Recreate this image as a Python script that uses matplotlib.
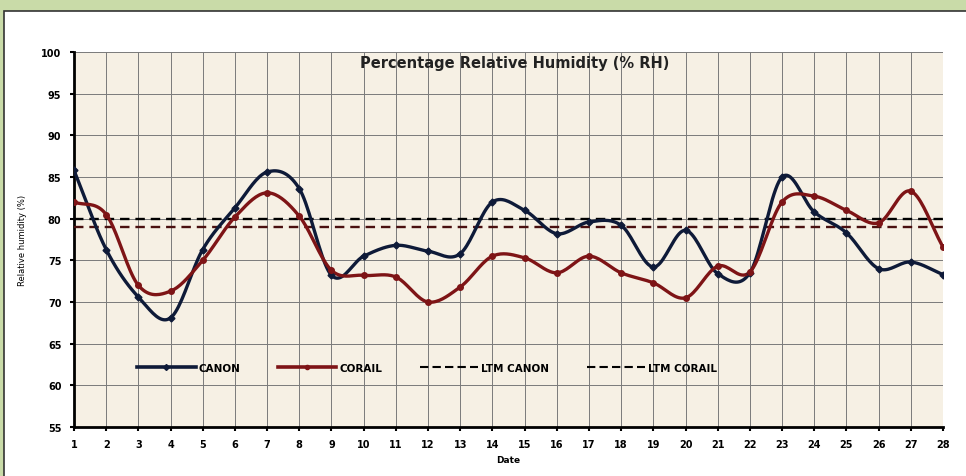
import numpy as np
import matplotlib
matplotlib.use("Agg")
import matplotlib.pyplot as plt
from matplotlib.patches import Rectangle

# data
dates = list(range(1, 29))
canon = [85.8, 76.3, 70.6, 68.1, 76.3, 81.3, 85.6, 83.6, 73.2, 75.5,
         76.8, 76.1, 75.8, 82.0, 81.0, 78.2, 79.6, 79.2, 74.2, 78.6,
         73.4, 73.5, 85.0, 80.8, 78.3, 74.0, 74.8, 73.3]
corail = [82.0, 80.5, 72.0, 71.3, 75.0, 80.2, 83.1, 80.3, 73.8, 73.2,
          73.0, 70.0, 71.8, 75.5, 75.3, 73.5, 75.5, 73.5, 72.3, 70.5,
          74.3, 73.6, 82.0, 82.7, 81.0, 79.5, 83.3, 76.6]
ltm_canon = 80
ltm_corail = 79


# smoothed line like excel (catmull-rom)
def smooth(x, y, n=20):
    x = np.asarray(x, float)
    y = np.asarray(y, float)
    px = np.concatenate([[2 * x[0] - x[1]], x, [2 * x[-1] - x[-2]]])
    py = np.concatenate([[2 * y[0] - y[1]], y, [2 * y[-1] - y[-2]]])
    xs, ys = [], []
    t = np.linspace(0, 1, n, endpoint=False)
    for i in range(1, len(px) - 2):
        for arr, out in ((px, xs), (py, ys)):
            p0, p1, p2, p3 = arr[i - 1], arr[i], arr[i + 1], arr[i + 2]
            out.extend(0.5 * (2 * p1 + (-p0 + p2) * t
                              + (2 * p0 - 5 * p1 + 4 * p2 - p3) * t ** 2
                              + (-p0 + 3 * p1 - 3 * p2 + p3) * t ** 3))
    xs.append(x[-1])
    ys.append(y[-1])
    return np.array(xs), np.array(ys)


navy = '#0e1a38'
red = '#7e1416'

fig = plt.figure(figsize=(9.66, 4.77), dpi=100)
fig.patch.set_facecolor('#c9dba8')
# white panel with border
fig.patches.append(Rectangle((4 / 966, -0.01), 1, 1.01 - 12 / 477, transform=fig.transFigure,
                             facecolor='white', edgecolor='#333333', linewidth=1.2, zorder=-10))

ax = fig.add_axes([74 / 966, 1 - 428 / 477, (943 - 74) / 966, (428 - 53) / 477])
ax.set_facecolor('#f6f0e4')
ax.set_xlim(1, 28)
ax.set_ylim(55, 100)
ax.set_xticks(dates)
ax.set_yticks(range(55, 101, 5))
ax.grid(True, color='#7a7a7a', linewidth=0.7)
ax.set_axisbelow(True)

ax.axhline(ltm_canon, color='black', lw=1.7, ls=(0, (4, 2.5)), zorder=3)
ax.axhline(ltm_corail, color='#4a1010', lw=1.7, ls=(0, (4, 2.5)), zorder=3)

sx, sy = smooth(dates, canon)
ax.plot(sx, sy, color=navy, lw=2.4, zorder=4)
ax.plot(dates, canon, ls='none', marker='D', ms=3.5, color=navy, zorder=5)
sx, sy = smooth(dates, corail)
ax.plot(sx, sy, color=red, lw=2.4, zorder=4)
ax.plot(dates, corail, ls='none', marker='o', ms=4, color=red, zorder=5)

h1, = ax.plot([], [], color=navy, lw=2.6, marker='D', ms=3)
h2, = ax.plot([], [], color=red, lw=2.6, marker='o', ms=3)
h3, = ax.plot([], [], color='black', lw=1.5, ls=(0, (4, 2)))
h4, = ax.plot([], [], color='black', lw=1.5, ls=(0, (4, 2)))
leg = ax.legend([h1, h2, h3, h4], ['CANON', 'CORAIL', 'LTM CANON', 'LTM CORAIL'],
                ncol=4, frameon=False, loc='center left', bbox_to_anchor=(0.068, 0.157),
                borderaxespad=0, handlelength=5.6, handletextpad=0.3, columnspacing=3.6,
                prop={'size': 7.5, 'weight': 'bold'})

for s in ['top', 'right']:
    ax.spines[s].set_visible(False)
for s in ['left', 'bottom']:
    ax.spines[s].set_linewidth(2)
    ax.spines[s].set_color('black')
ax.tick_params(direction='out', length=3, width=1.5, labelsize=7, pad=6)
for lab in ax.get_xticklabels() + ax.get_yticklabels():
    lab.set_fontweight('bold')

ax.text(14.7, 99.6, 'Percentage Relative Humidity (% RH)', ha='center', va='top',
        fontsize=10.5, fontweight='bold', color='#222222')
ax.set_xlabel('Date', fontsize=6.5, fontweight='bold', labelpad=4)
ax.set_ylabel('Relative humidity (%)', fontsize=6, labelpad=10)

fig.savefig('out.png', dpi=100, facecolor=fig.get_facecolor())
